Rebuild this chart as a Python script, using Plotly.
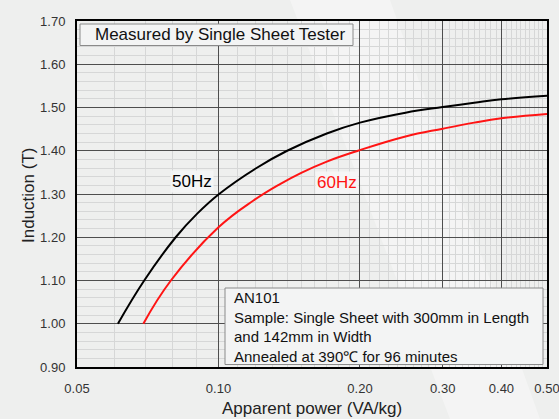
import numpy as np
import plotly.graph_objects as go

# ---- data ----
x_50hz = [0.0611, 0.0695, 0.0811, 0.090, 0.1003, 0.120, 0.140, 0.170, 0.200, 0.250, 0.300, 0.350, 0.400, 0.500]
y_50hz = [1.000, 1.100, 1.200, 1.254, 1.300, 1.359, 1.400, 1.440, 1.465, 1.488, 1.501, 1.511, 1.519, 1.527]

x_60hz = [0.0692, 0.0792, 0.100, 0.1187, 0.1352, 0.150, 0.170, 0.198, 0.250, 0.300, 0.350, 0.400, 0.500]
y_60hz = [1.000, 1.100, 1.223, 1.285, 1.323, 1.349, 1.375, 1.400, 1.433, 1.451, 1.465, 1.475, 1.485]

x_tickvals = [0.05, 0.10, 0.20, 0.30, 0.40, 0.50]
x_ticktext = ["0.05", "0.10", "0.20", "0.30", "0.40", "0.50"]
x_minor = [round(0.05 + 0.01 * i, 2) for i in range(46)]
y_tickvals = [0.9, 1.0, 1.1, 1.2, 1.3, 1.4, 1.5, 1.6, 1.7]
y_ticktext = ["0.90", "1.00", "1.10", "1.20", "1.30", "1.40", "1.50", "1.60", "1.70"]
y_minor = [round(0.9 + 0.02 * i, 2) for i in range(41)]

note_title = "Measured by Single Sheet Tester"
note_lines = ["AN101",
              "Sample: Single Sheet with 300mm in Length",
              "and 142mm in Width",
              "Annealed at 390\u2103 for 96 minutes"]

FONT = "Liberation Sans, Arial, sans-serif"

# plot-area geometry (pixels) for converting overlay positions to paper coords
W, H = 559, 419
L, R, T, B = 77, 12, 21, 52
PW, PH = W - L - R, H - T - B


def px(x):
    return (x - L) / PW


def py(y):
    return (H - B - y) / PH


fig = go.Figure()
fig.add_trace(go.Scatter(x=x_50hz, y=y_50hz, mode="lines",
                         line=dict(color="#000000", width=2, shape="spline", smoothing=1.2),
                         showlegend=False, hoverinfo="skip"))
fig.add_trace(go.Scatter(x=x_60hz, y=y_60hz, mode="lines",
                         line=dict(color="#ff1414", width=2, shape="spline", smoothing=1.2),
                         showlegend=False, hoverinfo="skip"))

shapes = [
    # soft diagonal highlight band in the background
    dict(type="path", xref="paper", yref="paper", layer="below",
         path=f"M {px(290)} {py(0)} L {px(390)} {py(0)} L {px(540)} {py(419)} L {px(450)} {py(419)} Z",
         fillcolor="rgba(255,255,255,0.35)", line=dict(width=0)),
    # title box
    dict(type="rect", xref="paper", yref="paper", layer="above",
         x0=px(80), x1=px(353), y0=py(45.5), y1=py(24),
         fillcolor="#f3f4f4", line=dict(color="#8a8a8a", width=1)),
    # info box
    dict(type="rect", xref="paper", yref="paper", layer="above",
         x0=px(225), x1=px(543), y0=py(364.5), y1=py(288),
         fillcolor="#f3f4f4", line=dict(color="#8a8a8a", width=1)),
]

annotations = [
    dict(text=note_title, xref="paper", yref="paper", x=px(220), y=py(34.5),
         xanchor="center", yanchor="middle", showarrow=False,
         font=dict(family=FONT, size=17, color="#111111")),
    dict(text="<br>".join(note_lines), xref="paper", yref="paper", x=px(232), y=py(326.5),
         xanchor="left", yanchor="middle", align="left", showarrow=False,
         font=dict(family=FONT, size=15, color="#111111")),
    dict(text="50Hz", xref="paper", yref="paper", x=px(191.5), y=py(181),
         xanchor="center", yanchor="middle", showarrow=False,
         bgcolor="rgba(243,244,244,0.95)", borderpad=1,
         font=dict(family=FONT, size=17, color="#000000")),
    dict(text="60Hz", xref="paper", yref="paper", x=px(337), y=py(182.5),
         xanchor="center", yanchor="middle", showarrow=False,
         bgcolor="rgba(245,246,246,0.95)", borderpad=1,
         font=dict(family=FONT, size=17, color="#ff1414")),
    # axis titles placed explicitly
    dict(text="Apparent power (VA/kg)", xref="paper", yref="paper", x=px(312), y=py(408),
         xanchor="center", yanchor="middle", showarrow=False,
         font=dict(family=FONT, size=17, color="#222222")),
    dict(text="Induction (T)", xref="paper", yref="paper", x=px(28), y=py(196),
         xanchor="center", yanchor="middle", textangle=-90, showarrow=False,
         font=dict(family=FONT, size=17, color="#222222")),
]

fig.update_layout(
    width=W, height=H,
    margin=dict(l=L, r=R, t=T, b=B, pad=0, autoexpand=False),
    paper_bgcolor="#eeefee",
    plot_bgcolor="rgba(0,0,0,0)",
    font=dict(family=FONT, color="#222222"),
    shapes=shapes,
    annotations=annotations,
    showlegend=False,
)

fig.update_xaxes(
    type="log", range=[np.log10(0.05) - 1e-6, np.log10(0.5) + 1e-6],
    tickmode="array", tickvals=x_tickvals, ticktext=x_ticktext,
    showgrid=True, gridcolor="#4e4e4e", gridwidth=1,
    minor=dict(tickmode="array", tickvals=x_minor, showgrid=True,
               gridcolor="#d6d7d7", gridwidth=1, ticks=""),
    showline=True, linecolor="#000000", linewidth=2, mirror=True,
    ticks="", ticklabelstandoff=8, automargin=False, ticklabeloverflow="allow",
    tickfont=dict(family=FONT, size=13, color="#333333"),
    zeroline=False,
)
fig.update_yaxes(
    range=[0.9, 1.7],
    tickmode="array", tickvals=y_tickvals, ticktext=y_ticktext,
    showgrid=True, gridcolor="#4e4e4e", gridwidth=1,
    minor=dict(tickmode="array", tickvals=y_minor, showgrid=True,
               gridcolor="#d6d7d7", gridwidth=1, ticks=""),
    showline=True, linecolor="#000000", linewidth=2, mirror=True,
    ticks="", ticklabelstandoff=7, automargin=False, ticklabeloverflow="allow",
    tickfont=dict(family=FONT, size=13, color="#333333"),
    zeroline=False,
)

fig.write_html(
    "out.html",
    config={"displayModeBar": False},
    post_script="document.body.style.margin='0';document.body.style.padding='0';"
                "document.body.style.overflow='hidden';",
)
